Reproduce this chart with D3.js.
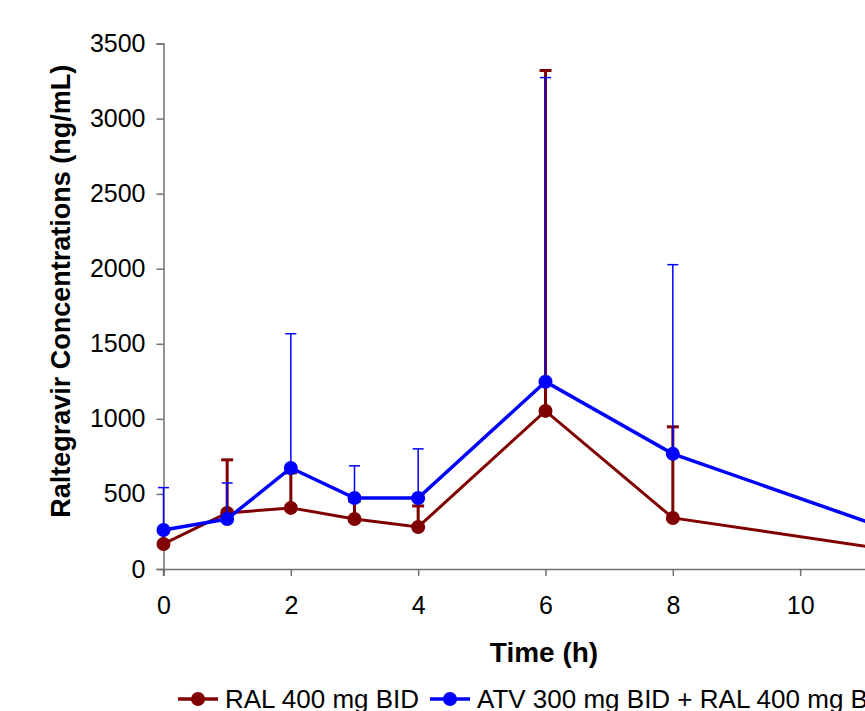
<!DOCTYPE html>
<html>
<head>
<meta charset="utf-8">
<script src="https://cdn.jsdelivr.net/npm/d3@7"></script>
<style>
  html, body { margin: 0; padding: 0; background: #fff; overflow: hidden; }
  svg { display: block; font-family: "Liberation Sans", Arial, sans-serif; }
</style>
</head>
<body>
<svg id="chart" width="865" height="711"></svg>
<script>
// sampling times (h)
const times = [0, 1, 2, 3, 4, 6, 8, 12];
// RAL 400 mg BID: mean and +SD
const ralMean = [167, 373, 407, 333, 280, 1053, 340, 91];
const ralSD   = [83, 354, 233, 117, 140, 2267, 607, 60];
// ATV 300 mg BID + RAL 400 mg BID: mean and +SD
const atvMean = [260, 333, 673, 473, 473, 1247, 767, 173];
const atvSD   = [282, 240, 894, 214, 327, 2026, 1260, 100];

const xTicks = [0, 2, 4, 6, 8, 10, 12];
const yTicks = [0, 500, 1000, 1500, 2000, 2500, 3000, 3500];

const svg = d3.select('#chart');
const x = d3.scaleLinear().domain([0, 12]).range([163.5, 927.5]);
const y = d3.scaleLinear().domain([0, 3500]).range([569, 43.5]);

const axisCol = '#707070';

// axes
const gx = svg.append('g').attr('transform', `translate(0,${y(0)})`)
  .call(d3.axisBottom(x).tickValues(xTicks).tickSize(7).tickPadding(20).tickFormat(d3.format('d')));
const gy = svg.append('g').attr('transform', `translate(${x(0)},0)`)
  .call(d3.axisLeft(y).tickValues(yTicks).tickSize(7).tickPadding(11).tickFormat(d3.format('d')));
[gx, gy].forEach(g => {
  g.select('.domain').attr('stroke', axisCol).attr('stroke-width', 1.5);
  g.selectAll('.tick line').attr('stroke', axisCol).attr('stroke-width', 1.5);
  g.selectAll('.tick text').attr('fill', '#000').attr('font-size', 25)
    .attr('font-family', '"Liberation Sans", Arial, sans-serif');
});
// y axis continues a little below the x axis
gy.append('line').attr('x1', 0).attr('x2', 0).attr('y1', y(0)).attr('y2', y(0) + 7)
  .attr('stroke', axisCol).attr('stroke-width', 1.5);

// axis titles
svg.append('text')
  .attr('transform', `translate(70,${(y(0) + y(3500)) / 2 - 15}) rotate(-90)`)
  .attr('text-anchor', 'middle')
  .attr('font-weight', 'bold').attr('font-size', 27)
  .text('Raltegravir Concentrations (ng/mL)');
svg.append('text')
  .attr('x', 544).attr('y', 662)
  .attr('text-anchor', 'middle')
  .attr('font-weight', 'bold').attr('font-size', 28)
  .text('Time (h)');

function drawSeries(mean, sd, col, lw, ew, capW, capLw) {
  const data = times.map((t, i) => ({ t: t, m: mean[i], s: sd[i] }));
  const g = svg.append('g');
  // error bars (upper only)
  data.forEach(d => {
    g.append('line')
      .attr('x1', x(d.t)).attr('x2', x(d.t))
      .attr('y1', y(d.m)).attr('y2', y(d.m + d.s))
      .attr('stroke', col).attr('stroke-width', ew);
    g.append('line')
      .attr('x1', x(d.t) - capW / 2).attr('x2', x(d.t) + capW / 2)
      .attr('y1', y(d.m + d.s)).attr('y2', y(d.m + d.s))
      .attr('stroke', col).attr('stroke-width', capLw);
  });
  g.append('path')
    .datum(data)
    .attr('fill', 'none').attr('stroke', col).attr('stroke-width', lw)
    .attr('d', d3.line().x(d => x(d.t)).y(d => y(d.m)));
  g.selectAll('circle').data(data).enter().append('circle')
    .attr('cx', d => x(d.t)).attr('cy', d => y(d.m))
    .attr('r', 7).attr('fill', col);
}

drawSeries(ralMean, ralSD, '#800000', 3, 3, 12, 3);
drawSeries(atvMean, atvSD, '#0000ff', 3.5, 1.5, 11, 1.5);

// legend
const legend = [
  { label: 'RAL 400 mg BID', col: '#800000', x: 178 },
  { label: 'ATV 300 mg BID + RAL 400 mg BID', col: '#0000ff', x: 430 }
];
const ly = 699;
legend.forEach(l => {
  svg.append('line').attr('x1', l.x).attr('x2', l.x + 40).attr('y1', ly).attr('y2', ly)
    .attr('stroke', l.col).attr('stroke-width', 3.5);
  svg.append('circle').attr('cx', l.x + 20).attr('cy', ly).attr('r', 7).attr('fill', l.col);
  svg.append('text').attr('x', l.x + 47).attr('y', ly + 9)
    .attr('font-size', 26).text(l.label);
});
</script>
</body>
</html>
